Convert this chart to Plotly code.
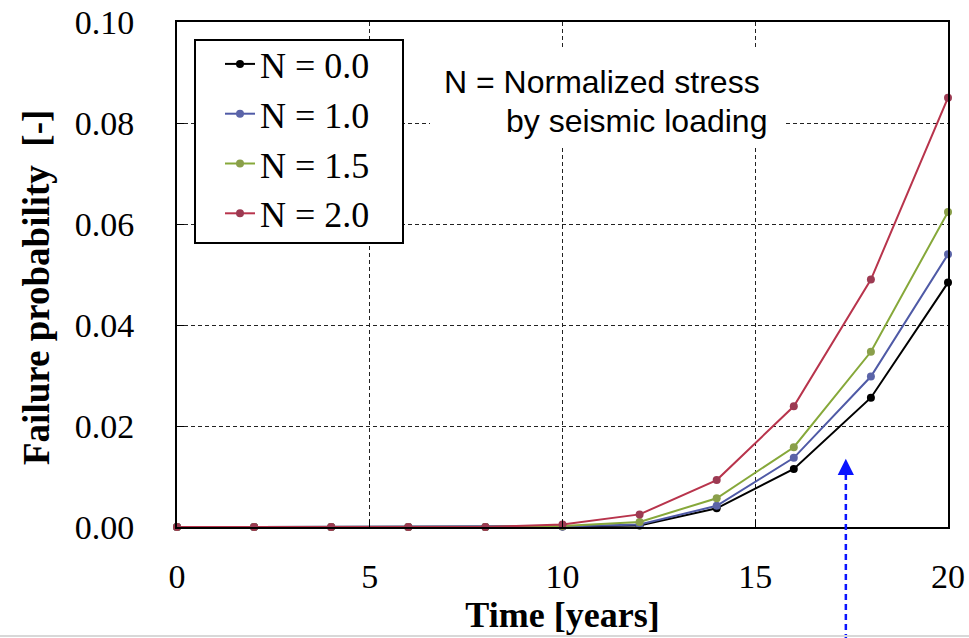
import plotly.graph_objects as go

# ---- data ----
time_years = [0, 2, 4, 6, 8, 10, 12, 14, 16, 18, 20]
series_names = ["N = 0.0", "N = 1.0", "N = 1.5", "N = 2.0"]
p_n00 = [0, 0, 0, 0, 0, 0.0001, 0.0003, 0.0037, 0.0115, 0.0256, 0.0484]
p_n10 = [0, 0, 0, 0, 0, 0.0001, 0.0005, 0.0042, 0.0137, 0.0298, 0.0540]
p_n15 = [0, 0, 0, 0, 0, 0.0002, 0.0010, 0.0057, 0.0158, 0.0347, 0.0624]
p_n20 = [0, 0, 0, 0, 0, 0.0005, 0.0025, 0.0093, 0.0239, 0.0490, 0.0850]
series_values = [p_n00, p_n10, p_n15, p_n20]
series_colors = ["#000000", "#4f5aa6", "#86a83a", "#b8344c"]
marker_colors = ["#000000", "#5b64a8", "#8a9f4a", "#9c3a52"]
x_ticks = [0, 5, 10, 15, 20]
y_ticks = [0.00, 0.02, 0.04, 0.06, 0.08, 0.10]
y_tick_labels = ["0.00", "0.02", "0.04", "0.06", "0.08", "0.10"]
arrow_x = 17.35
arrow_tip_y = 0.0135
x_range = [0, 20]
y_range = [0, 0.10]

serif = "Liberation Serif, Times New Roman, serif"
sans = "Liberation Sans, Arial, sans-serif"

W, H = 969, 638
# plot area in pixels
PL, PR, PT, PB = 177, 948, 22, 527
PW, PH = PR - PL, PB - PT


def px(X):
    return (X - PL) / PW


def py(Y):
    return (PB - Y) / PH


fig = go.Figure()
for i, (name, vals) in enumerate(zip(series_names, series_values)):
    fig.add_trace(go.Scatter(
        x=time_years, y=vals, name=name, mode="lines+markers",
        legendgroup=f"g{i}",
        line=dict(color=series_colors[i], width=2),
        marker=dict(color=marker_colors[i], size=8, symbol="circle"),
        cliponaxis=False,
    ))

grid_dash = "4px,3px"
fig.update_layout(
    template="none",
    width=W, height=H,
    margin=dict(l=PL, r=W - PR, t=PT, b=H - PB, autoexpand=False),
    paper_bgcolor="white", plot_bgcolor="white",
    font=dict(family=serif, color="black"),
    showlegend=True,
    legend=dict(
        x=px(220), y=py(34), xanchor="left", yanchor="top",
        bgcolor="rgba(0,0,0,0)", borderwidth=0,
        font=dict(family=serif, size=36, color="black"),
        tracegroupgap=0, itemwidth=30,
    ),
    xaxis=dict(
        range=x_range, tickvals=x_ticks, ticktext=[str(v) for v in x_ticks],
        showline=True, linecolor="black", linewidth=2, mirror=True,
        ticks="inside", ticklen=7, tickcolor="black", tickwidth=1,
        showgrid=True, gridcolor="#222", gridwidth=1, griddash=grid_dash,
        zeroline=False, automargin=False,
        ticklabeloverflow="allow", ticklabelstandoff=18,
        tickfont=dict(family=serif, size=34, color="black"),
        title=dict(text="Time [years]", font=dict(family=serif, size=36, weight="bold"), standoff=6),
    ),
    yaxis=dict(
        range=y_range, tickvals=y_ticks, ticktext=y_tick_labels,
        showline=True, linecolor="black", linewidth=2, mirror=True,
        ticks="inside", ticklen=7, tickcolor="black", tickwidth=1,
        showgrid=True, gridcolor="#222", gridwidth=1, griddash=grid_dash,
        zeroline=False, automargin=False,
        ticklabeloverflow="allow", ticklabelstandoff=34,
        tickfont=dict(family=serif, size=34, color="black"),
    ),
)

# y-axis title (placed as annotation to match the reference offset)
fig.add_annotation(xref="paper", yref="paper", x=px(36), y=py(288),
                   xanchor="center", yanchor="middle", showarrow=False, textangle=-90,
                   text="Failure probability  [-]",
                   font=dict(family=serif, size=37, weight="bold", color="black"))

# legend frame
fig.add_shape(type="rect", xref="paper", yref="paper",
              x0=px(195), x1=px(403), y0=py(243), y1=py(40),
              fillcolor="white", line=dict(color="black", width=2), layer="above")

# white box behind the note (hides gridlines)
fig.add_shape(type="rect", xref="paper", yref="paper",
              x0=px(430), x1=px(786), y0=py(146), y1=py(50),
              fillcolor="white", line=dict(width=0), layer="above")

note_font = dict(family=sans, size=32, color="black")
fig.add_annotation(xref="paper", yref="paper", x=px(442), y=py(82),
                   xanchor="left", yanchor="middle", showarrow=False,
                   text="N = Normalized stress", font=note_font)
fig.add_annotation(xref="paper", yref="paper", x=px(504), y=py(121),
                   xanchor="left", yanchor="middle", showarrow=False,
                   text="by seismic loading", font=note_font)

# blue dashed arrow
ax_paper = (arrow_x - x_range[0]) / (x_range[1] - x_range[0])
fig.add_shape(type="line", xref="paper", yref="paper",
              x0=ax_paper, x1=ax_paper, y0=py(640), y1=(arrow_tip_y - 0.002) / y_range[1],
              line=dict(color="#0a14ff", width=2.5, dash="6px,4px"))
fig.add_annotation(
    x=arrow_x, y=arrow_tip_y, xref="x", yref="y", text="",
    showarrow=True, ax=0, ay=16, arrowhead=2, arrowsize=1.3, arrowwidth=2.5,
    arrowcolor="#0a14ff",
)

# thin gray line at image bottom
fig.add_shape(type="line", xref="paper", yref="paper",
              x0=px(0), x1=px(969), y0=py(636), y1=py(636),
              line=dict(color="#d8d8d8", width=2))

fig.write_html("out.html", config={"displayModeBar": False},
               post_script="document.body.style.margin='0';")
